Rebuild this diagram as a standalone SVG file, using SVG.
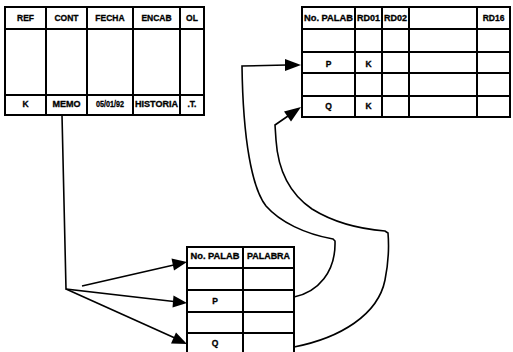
<svg xmlns="http://www.w3.org/2000/svg" width="513" height="352" viewBox="0 0 513 352">
  <style>
    .grid { fill: none; stroke: #000; stroke-width: 2; stroke-linecap: square; }
    .conn { fill: none; stroke: #000; stroke-width: 1.6; }
    .head { fill: #000; }
    text { font-family: "Liberation Sans", Arial, sans-serif; font-weight: bold; font-size: 8.5px; fill: #000; stroke: #000; stroke-width: 0.3; text-anchor: middle; }
  </style>
  <rect width="513" height="352" fill="#fff"/>

  <!-- record table: REF / CONT / FECHA / ENCAB / OL -->
  <g id="registro">
    <rect class="grid" x="5" y="7" width="199" height="108"/>
    <path class="grid" d="M5,29H204M5,95H204M46,7V115M87,7V115M133,7V115M180,7V115"/>
    <text x="25.5" y="21">REF</text>
    <text x="66.5" y="21">CONT</text>
    <text x="110" y="21">FECHA</text>
    <text x="156.5" y="21">ENCAB</text>
    <text x="192" y="21">OL</text>
    <text x="25.5" y="107">K</text>
    <text x="66.5" y="107" textLength="28" lengthAdjust="spacingAndGlyphs">MEMO</text>
    <text x="110" y="107" textLength="28" lengthAdjust="spacingAndGlyphs">05/01/92</text>
    <text x="156.5" y="107" textLength="43" lengthAdjust="spacingAndGlyphs">HISTORIA</text>
    <text x="192" y="107">.T.</text>
  </g>

  <!-- word index table: No. PALAB / RD01 ... RD16 -->
  <g id="indice">
    <rect class="grid" x="302" y="7" width="208" height="110"/>
    <path class="grid" d="M302,29H510M302,52H510M302,73H510M302,96H510M355,7V117M382,7V117M409,7V117M477,7V117"/>
    <text x="328.5" y="21" textLength="49" lengthAdjust="spacingAndGlyphs">No. PALAB</text>
    <text x="368.5" y="21" textLength="23" lengthAdjust="spacingAndGlyphs">RD01</text>
    <text x="395.5" y="21" textLength="23" lengthAdjust="spacingAndGlyphs">RD02</text>
    <text x="493.5" y="21">RD16</text>
    <text x="328.5" y="67">P</text>
    <text x="368.5" y="67">K</text>
    <text x="328.5" y="109">Q</text>
    <text x="368.5" y="109">K</text>
  </g>

  <!-- word table: No. PALAB / PALABRA -->
  <g id="palabras">
    <path class="grid" d="M187,353V247H294V353M187,268H294M187,290H294M187,312H294M187,333H294M243,247V353"/>
    <text x="215" y="259" textLength="49" lengthAdjust="spacingAndGlyphs">No. PALAB</text>
    <text x="268.5" y="259" textLength="43" lengthAdjust="spacingAndGlyphs">PALABRA</text>
    <text x="215" y="304">P</text>
    <text x="215" y="346">Q</text>
  </g>

  <!-- connectors -->
  <g id="conectores">
    <path class="conn" d="M62,115L66,289L176,301.7"/>
    <path class="conn" d="M66,289L176,338.5"/>
    <path class="conn" d="M82,286L176,264.5"/>
    <path class="head" d="M187,262L174,270.5L171.5,258.5Z"/>
    <path class="head" d="M187,303L172.5,307.5L173.5,295.5Z"/>
    <path class="head" d="M187,344L171,343.5L176,332.5Z"/>

    <path class="conn" d="M294,297C318,292 336,272 335,241L333,239C305,234 280,222 266,206C252,188 243,140 242,66L287,65"/>
    <path class="head" d="M301,65L285,59L285,71Z"/>

    <path class="conn" d="M294,347C340,338 378,315 385,280C389,260 389,245 388,233L385,231C360,229 333,222 312,209C290,194 278,170 276,140L275,125L288,116"/>
    <path class="head" d="M301,107L284,111.5L291,121.5Z"/>
  </g>
</svg>
